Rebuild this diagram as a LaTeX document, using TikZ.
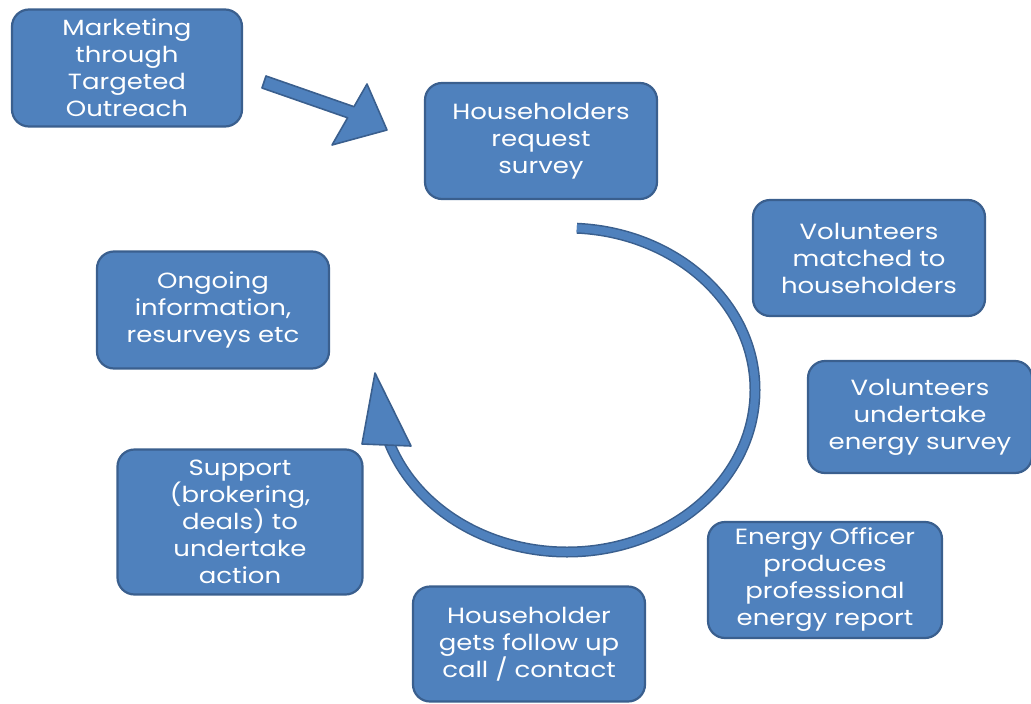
\documentclass[tikz,border=0pt]{standalone}
\usepackage{fontspec}
\setmainfont{Poppins}[FakeStretch=1.18]
\definecolor{boxfill}{HTML}{4F81BD}
\definecolor{boxedge}{HTML}{3A5F8E}
\begin{document}
\begin{tikzpicture}[x=1pt,y=-1pt,
  stepbox/.style={draw=boxedge,line width=2.2pt,fill=boxfill,rounded corners=17pt,
    text=white,align=center,font=\fontsize{22}{27}\selectfont,inner sep=0pt},
  arrowbody/.style={fill=boxfill,draw=boxedge,line width=1.6pt,line join=round}]
\useasboundingbox (0,0) rectangle (1031,704);
\node[stepbox,minimum width=230pt,minimum height=117pt] (mkt) at (127,68) {Marketing\\through\\Targeted\\Outreach};
\node[stepbox,minimum width=232pt,minimum height=116pt] (req) at (541,141) {Householders\\request\\survey};
\node[stepbox,minimum width=232pt,minimum height=116pt] (match) at (869,258) {Volunteers\\matched to\\householders};
\node[stepbox,minimum width=224pt,minimum height=112pt] (under) at (920,417) {Volunteers\\undertake\\energy survey};
\node[stepbox,minimum width=234pt,minimum height=116pt] (officer) at (825,580) {Energy Officer\\produces\\professional\\energy report};
\node[stepbox,minimum width=232pt,minimum height=115pt] (follow) at (529,644) {Householder\\gets follow up\\call / contact};
\node[stepbox,minimum width=245pt,minimum height=145pt] (support) at (240,522) {Support\\(brokering,\\deals) to\\undertake\\action};
\node[stepbox,minimum width=232pt,minimum height=117pt] (ongoing) at (213,310) {Ongoing\\information,\\resurveys etc};
% straight arrow
\draw[arrowbody] (266,76) -- (354,106.7) -- (367,84) -- (387,130) -- (332,145) -- (347.6,117.8) -- (262,88) -- cycle;
% curved arrow
\coordinate (cc) at (567,390);
\draw[boxedge,line width=11pt] ([shift={(-87:188 and 162)}]cc) arc[start angle=-87,end angle=161,x radius=188,y radius=162];
\draw[boxfill,line width=8pt] ([shift={(-87:188 and 162)}]cc) arc[start angle=-87,end angle=161,x radius=188,y radius=162];
\draw[arrowbody] (375,373) -- (411,446) -- (362,444) -- cycle;
\end{tikzpicture}
\end{document}
